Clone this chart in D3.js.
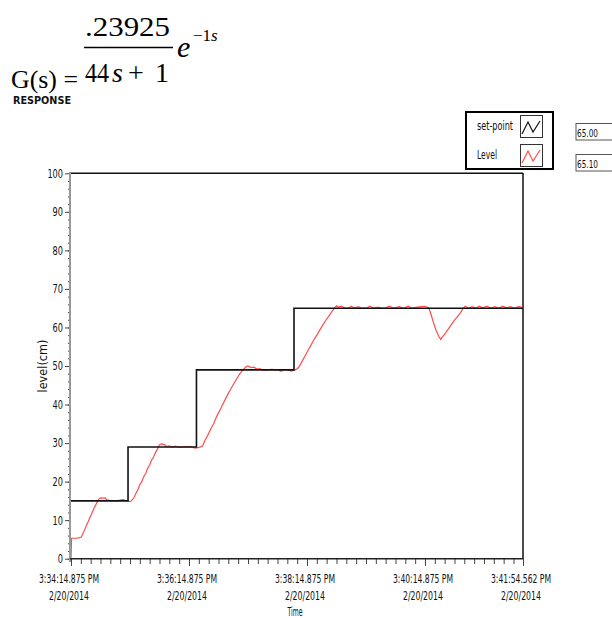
<!DOCTYPE html>
<html>
<head>
<meta charset="utf-8">
<script src="https://cdn.jsdelivr.net/npm/d3@7"></script>
<style>
  body { margin: 0; background: #fff; }
  svg { display: block; }
  .lab { font-family: "Liberation Sans Narrow", "DejaVu Sans Condensed", sans-serif; font-size: 12px; fill: #111; }
  .serif { font-family: "Liberation Serif", "Times New Roman", serif; fill: #000; }
</style>
</head>
<body>
<div id="chart"></div>
<script>
// time axis in seconds from 3:34:14.875 PM
var tickSeconds = [0, 120, 240, 360, 459.687];
var tickTimes = ["3:34:14.875 PM", "3:36:14.875 PM", "3:38:14.875 PM", "3:40:14.875 PM", "3:41:54.562 PM"];
var tickDates = ["2/20/2014", "2/20/2014", "2/20/2014", "2/20/2014", "2/20/2014"];
var yTicks = [0, 10, 20, 30, 40, 50, 60, 70, 80, 90, 100];

// set-point steps
var spTime = [0, 58, 127.6, 226.8, 459.687];
var spLevel = [15, 29, 49, 65, 65];

var lvTime = [0, 0.6, 4, 8, 10.5, 11.5, 13, 15, 17, 19, 21, 23, 25, 27, 28.8, 30, 33, 35, 36.5, 38, 41, 44, 47, 50, 53, 56, 58, 60, 61.5,
  64, 66, 68, 70, 72, 74, 76, 78, 80, 82, 84, 86, 88, 90, 92, 95, 97, 100, 103, 106, 110, 114, 118, 122, 126, 129, 132, 134,
  136, 139, 142, 145, 148, 151, 154, 157, 160, 163, 166, 169, 172, 175, 178, 180, 183, 186, 189, 192, 195, 199, 204, 210, 214, 216, 220, 224, 228, 230,
  232, 235, 238, 241, 244, 247, 250, 253, 256, 259, 262, 265, 268, 270, 272, 275, 278, 282, 285, 288, 292, 296, 300, 304, 308, 312, 316, 320, 324, 328, 334, 338, 343, 347, 352, 356, 360, 363,
  364, 366, 368, 370, 372, 374, 376, 378, 381, 384, 387, 390, 393, 396, 399, 401,
  404, 408, 412, 415, 419, 423, 427, 431, 435, 439, 443, 447, 451, 455, 459.687];
var lvValue = [0, 5.3, 5.3, 5.4, 5.6, 6.2, 7.0, 8.2, 9.3, 10.6, 11.6, 12.9, 13.9, 15.0, 15.6, 15.8, 15.7, 15.8, 15.2, 15.2, 15.0, 15.1, 15.0, 15.2, 15.3, 15.1, 15.0, 14.8, 15.0,
  15.8, 16.9, 17.9, 19.2, 20.0, 21.3, 22.1, 23.5, 24.3, 25.6, 26.4, 27.6, 28.5, 29.6, 29.8, 29.6, 29.1, 29.3, 28.9, 29.2, 28.9, 29.0, 29.0, 29.1, 28.7, 28.8, 29.0, 29.3,
  30.6, 32.0, 33.6, 35.0, 36.8, 38.3, 39.9, 41.4, 42.9, 44.3, 45.6, 46.9, 48.1, 49.0, 49.8, 50.0, 49.6, 49.7, 49.2, 49.3, 48.9, 49.0, 49.1, 49.0, 48.6, 49.0, 49.0, 48.7, 49.0, 49.3,
  49.8, 51.2, 52.6, 54.0, 55.4, 56.8, 58.0, 59.3, 60.6, 61.8, 62.9, 64.0, 65.0, 65.6, 65.3, 65.5, 65.1, 65.0, 65.5, 65.0, 65.4, 65.0, 65.0, 65.5, 65.0, 65.3, 65.0, 65.1, 65.5, 65.0, 65.4, 65.0, 65.5, 65.0, 65.3, 65.4, 65.5, 65.2,
  65.0, 63.5, 61.8, 60.2, 58.8, 57.7, 56.9, 57.6, 58.6, 59.7, 60.8, 61.9, 62.8, 63.8, 65.0, 65.5,
  65.0, 65.4, 65.0, 65.5, 65.1, 65.5, 65.0, 65.4, 65.0, 65.5, 65.1, 65.4, 65.0, 65.4, 65.2];

var legendNames = ["set-point", "Level"];
var legendColors = ["#111", "#ff4d4d"];
var readouts = ["65.00", "65.10"];

var width = 612, height = 618;
var svg = d3.select("#chart").append("svg").attr("width", width).attr("height", height);

var x = d3.scaleLinear().domain([0, 459.687]).range([71, 523]);
var y = d3.scaleLinear().domain([0, 100]).range([558.7, 173.3]);

// squeeze text into the narrow labview-looking widths
function fit(sel, perChar) {
  sel.each(function () {
    var t = d3.select(this);
    t.attr("textLength", t.text().length * perChar).attr("lengthAdjust", "spacingAndGlyphs");
  });
}

// ---- title formula
svg.append("text").attr("class", "serif").attr("x", 11).attr("y", 88).style("font-size", "26px")
  .attr("textLength", 67).attr("lengthAdjust", "spacingAndGlyphs").text("G(s) =");
svg.append("text").attr("class", "serif").attr("x", 85).attr("y", 36).style("font-size", "28px")
  .attr("textLength", 85).attr("lengthAdjust", "spacingAndGlyphs").text(".23925");
svg.append("line").attr("x1", 84).attr("x2", 173).attr("y1", 47.5).attr("y2", 47.5).attr("stroke", "#000").attr("stroke-width", 1.3);
svg.append("text").attr("class", "serif").attr("x", 85).attr("y", 82).style("font-size", "28px")
  .attr("textLength", 24).attr("lengthAdjust", "spacingAndGlyphs").text("44");
var den = svg.append("text").attr("class", "serif").attr("x", 112).attr("y", 82).style("font-size", "28px");
den.append("tspan").style("font-style", "italic").text("s");
den.append("tspan").attr("x", 128).text("+");
den.append("tspan").attr("x", 155).text("1");
svg.append("text").attr("class", "serif").attr("x", 177).attr("y", 57).style("font-size", "30px").style("font-style", "italic").text("e");
var sup = svg.append("text").attr("class", "serif").attr("x", 193).attr("y", 41).style("font-size", "17px");
sup.append("tspan").text("\u22121");
sup.append("tspan").style("font-style", "italic").text("s");
svg.append("text").attr("class", "lab").attr("x", 13).attr("y", 104).style("font-size", "10px").style("font-weight", "bold")
  .attr("textLength", 58).attr("lengthAdjust", "spacingAndGlyphs").text("RESPONSE");

// ---- plot frame
svg.append("line").attr("x1", 70).attr("x2", 523).attr("y1", 173.3).attr("y2", 173.3).attr("stroke", "#111").attr("stroke-width", 1.5);
svg.append("line").attr("x1", 523).attr("x2", 523).attr("y1", 173).attr("y2", 559).attr("stroke", "#111").attr("stroke-width", 1.5);

// ---- series
var line = d3.line().x(function (d) { return x(d[0]); }).y(function (d) { return y(d[1]); });
var lvData = lvTime.map(function (t, i) { return [t, lvValue[i]]; });
var spData = spTime.map(function (t, i) { return [t, spLevel[i]]; });

svg.append("path").datum(lvData).attr("d", line).attr("fill", "none")
  .attr("stroke", legendColors[1]).attr("stroke-width", 1.2);
svg.append("path").datum(spData).attr("d", line.curve(d3.curveStepAfter)).attr("fill", "none")
  .attr("stroke", legendColors[0]).attr("stroke-width", 1.6);

// ---- y axis
var gy = svg.append("g").attr("transform", "translate(70,0)")
  .call(d3.axisLeft(y).tickValues(yTicks).tickSize(5).tickPadding(2));
gy.select(".domain").remove();
gy.selectAll(".tick line").attr("stroke", "#444");
gy.selectAll(".tick text").attr("class", "lab").attr("fill", null).call(fit, 5.2);
var gym = svg.append("g").attr("transform", "translate(70,0)")
  .call(d3.axisLeft(y).tickValues(d3.range(0, 100, 2)).tickSize(2).tickFormat(""));
gym.select(".domain").remove();
gym.selectAll(".tick line").attr("stroke", "#444");

svg.append("line").attr("x1", 70).attr("x2", 70).attr("y1", 172).attr("y2", 562).attr("stroke", "#999").attr("stroke-width", 2);

// ---- x axis
var gx = svg.append("g").attr("transform", "translate(0,559)")
  .call(d3.axisBottom(x).tickValues(tickSeconds).tickSize(7).tickFormat(""));
gx.select(".domain").remove();
gx.selectAll(".tick line").attr("stroke", "#444");
var gxm = svg.append("g").attr("transform", "translate(0,559)")
  .call(d3.axisBottom(x).tickValues(d3.range(0, 459, 10)).tickSize(5).tickFormat(""));
gxm.select(".domain").remove();
gxm.selectAll(".tick line").attr("stroke", "#444");
svg.append("line").attr("x1", 70).attr("x2", 523).attr("y1", 558.8).attr("y2", 558.8).attr("stroke", "#222").attr("stroke-width", 1.6);

var xl = svg.append("g").selectAll("g").data(tickSeconds).join("g");
xl.append("text").attr("class", "lab").attr("text-anchor", "middle")
  .attr("x", function (d) { return x(d) - 2; }).attr("y", 583)
  .text(function (d, i) { return tickTimes[i]; })
  .attr("textLength", 60).attr("lengthAdjust", "spacingAndGlyphs");
xl.append("text").attr("class", "lab").attr("text-anchor", "middle")
  .attr("x", function (d) { return x(d) - 2; }).attr("y", 600)
  .text(function (d, i) { return tickDates[i]; })
  .attr("textLength", 40).attr("lengthAdjust", "spacingAndGlyphs");

// axis titles
svg.append("text").attr("class", "lab").attr("text-anchor", "middle").attr("x", 295).attr("y", 616)
  .attr("textLength", 15).attr("lengthAdjust", "spacingAndGlyphs").text("Time");
svg.append("text").attr("class", "lab").attr("text-anchor", "middle")
  .attr("transform", "translate(47,366) rotate(-90)")
  .attr("textLength", 53).attr("lengthAdjust", "spacingAndGlyphs").text("level(cm)");

// ---- legend
svg.append("rect").attr("x", 466).attr("y", 112).attr("width", 87).attr("height", 57)
  .attr("fill", "#fff").attr("stroke", "#000").attr("stroke-width", 2);
var lg = svg.append("g").selectAll("g").data(legendNames).join("g")
  .attr("transform", function (d, i) { return "translate(0," + (i * 29) + ")"; });
lg.append("text").attr("class", "lab").attr("x", 477).attr("y", 130)
  .text(function (d) { return d; }).call(fit, 4);
lg.append("rect").attr("x", 520.5).attr("y", 115.5).attr("width", 22).attr("height", 22)
  .attr("fill", "#fff").attr("stroke", "#333").attr("stroke-width", 1);
lg.append("path").attr("d", "M522,134L528,122L533,132L540,121").attr("fill", "none")
  .attr("stroke", function (d, i) { return legendColors[i]; }).attr("stroke-width", 1.2);

// ---- value readouts
var rd = svg.append("g").selectAll("g").data(readouts).join("g")
  .attr("transform", function (d, i) { return "translate(0," + (i * 31) + ")"; });
rd.append("rect").attr("x", 576).attr("y", 123.5).attr("width", 44).attr("height", 16.5)
  .attr("fill", "#fff").attr("stroke", "#555").attr("stroke-width", 1);
rd.append("text").attr("class", "lab").attr("x", 577).attr("y", 136.5)
  .style("font-size", "11px").text(function (d) { return d; })
  .attr("textLength", 21).attr("lengthAdjust", "spacingAndGlyphs");
</script>
</body>
</html>
